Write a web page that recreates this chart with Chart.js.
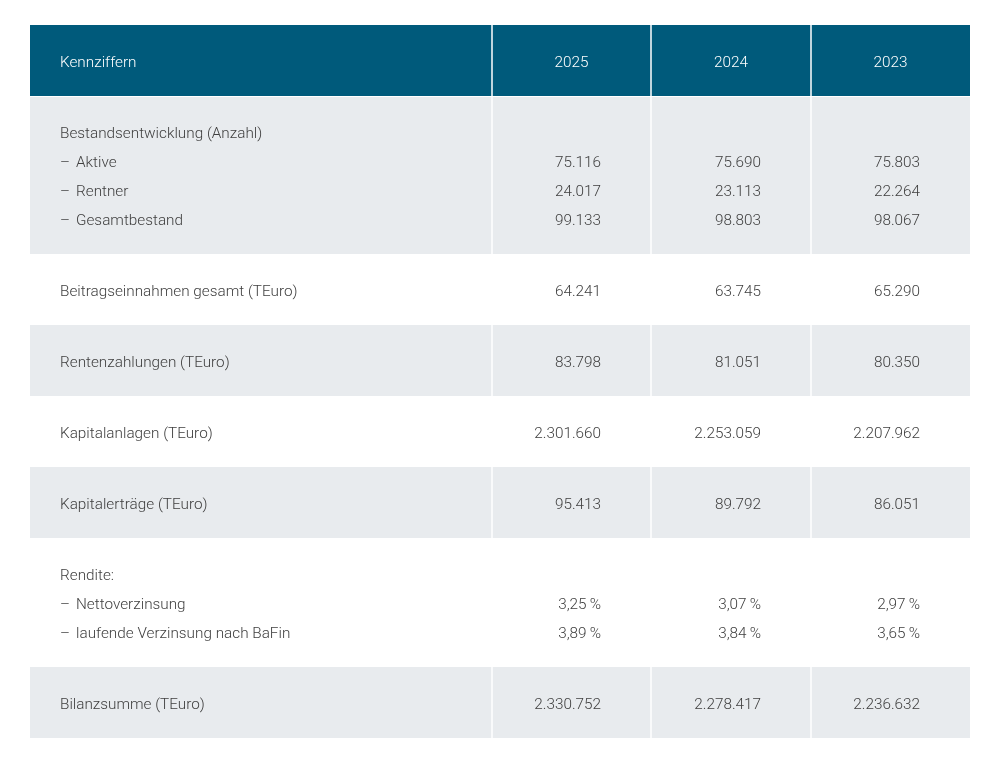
<!DOCTYPE html>
<html>
<head>
<meta charset="utf-8">
<script src="https://cdn.jsdelivr.net/npm/chart.js@4.4.1/dist/chart.umd.min.js"></script>
<style>
  html, body { margin: 0; padding: 0; background: #ffffff; }
  #wrap { width: 1000px; height: 769px; position: relative; }
</style>
</head>
<body>
<div id="wrap"><canvas id="c"></canvas></div>
<script>
// ---- data ----
const headerLabel = 'Kennziffern';
const years = ['2025', '2024', '2023'];

const rowTitles = [
  'Bestandsentwicklung (Anzahl)',
  'Beitragseinnahmen gesamt (TEuro)',
  'Rentenzahlungen (TEuro)',
  'Kapitalanlagen (TEuro)',
  'Kapitalerträge (TEuro)',
  'Rendite:',
  'Bilanzsumme (TEuro)'
];
const bestandLabels = ['Aktive', 'Rentner', 'Gesamtbestand'];
const bestand2025 = ['75.116', '24.017', '99.133'];
const bestand2024 = ['75.690', '23.113', '98.803'];
const bestand2023 = ['75.803', '22.264', '98.067'];

const beitrag = ['64.241', '63.745', '65.290'];
const rentenzahlungen = ['83.798', '81.051', '80.350'];
const kapitalanlagen = ['2.301.660', '2.253.059', '2.207.962'];
const kapitalertraege = ['95.413', '89.792', '86.051'];

const renditeLabels = ['Nettoverzinsung', 'laufende Verzinsung nach BaFin'];
const rendite2025 = ['3,25\u2009%', '3,89\u2009%'];
const rendite2024 = ['3,07\u2009%', '3,84\u2009%'];
const rendite2023 = ['2,97\u2009%', '3,65\u2009%'];

const bilanzsumme = ['2.330.752', '2.278.417', '2.236.632'];

// ---- build table model from the arrays ----
const rows = [
  { title: rowTitles[0], sub: bestandLabels,
    vals: [bestand2025, bestand2024, bestand2023], shaded: true },
  { title: rowTitles[1], vals: beitrag.map(v => [v]), shaded: false },
  { title: rowTitles[2], vals: rentenzahlungen.map(v => [v]), shaded: true },
  { title: rowTitles[3], vals: kapitalanlagen.map(v => [v]), shaded: false },
  { title: rowTitles[4], vals: kapitalertraege.map(v => [v]), shaded: true },
  { title: rowTitles[5], sub: renditeLabels,
    vals: [rendite2025, rendite2024, rendite2023], shaded: false },
  { title: rowTitles[6], vals: bilanzsumme.map(v => [v]), shaded: true }
];

// layout (in scale units; scales map 1 unit = 1 px)
const L = {
  top: 25, left: 30, right: 970,
  colEdges: [30, 492, 651, 811, 970],
  rowH: 71, lineH: 29, labelX: 60, subX: 76, numInset: 50, textDy: 2.5,
  header: '#005a7b', shade: '#e8ebee', text: '#404040',
  font: '300 15.3px Roboto'
};

const tablePlugin = {
  id: 'tablePlugin',
  beforeDatasetsDraw(chart) {
    const { ctx } = chart;
    const X = v => chart.scales.x.getPixelForValue(v);
    const Y = v => chart.scales.y.getPixelForValue(v);
    const T = v => Y(v + L.textDy);
    ctx.save();
    ctx.font = L.font;
    ctx.textBaseline = 'middle';

    // header
    let y = L.top;
    ctx.fillStyle = L.header;
    ctx.fillRect(X(L.left), Y(y), X(L.right) - X(L.left), Y(y + L.rowH) - Y(y));
    ctx.fillStyle = '#ffffff';
    ctx.textAlign = 'left';
    ctx.fillText(headerLabel, X(L.labelX), T(y + L.rowH / 2));
    ctx.textAlign = 'center';
    years.forEach((yr, i) => {
      ctx.fillText(yr, X((L.colEdges[i + 1] + L.colEdges[i + 2]) / 2), T(y + L.rowH / 2));
    });
    y += L.rowH;

    rows.forEach(r => {
      const nLines = r.sub ? r.sub.length + 1 : 1;
      const h = L.rowH + (nLines - 1) * L.lineH;
      if (r.shaded) {
        ctx.fillStyle = L.shade;
        ctx.fillRect(X(L.left), Y(y), X(L.right) - X(L.left), Y(y + h) - Y(y));
      }
      const firstY = y + L.rowH / 2;
      ctx.fillStyle = L.text;
      ctx.textAlign = 'left';
      ctx.fillText(r.title, X(L.labelX), T(firstY));
      if (r.sub) {
        r.sub.forEach((s, k) => {
          const ly = firstY + (k + 1) * L.lineH;
          ctx.fillText('\u2013', X(L.labelX), T(ly));
          ctx.fillText(s, X(L.subX), T(ly));
        });
      }
      ctx.textAlign = 'right';
      r.vals.forEach((colVals, i) => {
        const xr = L.colEdges[i + 2] - L.numInset;
        colVals.forEach((v, k) => {
          const ly = r.sub ? firstY + (k + 1) * L.lineH : firstY;
          ctx.fillText(v, X(xr), T(ly));
        });
      });
      y += h;
    });

    // vertical white dividers
    ctx.strokeStyle = '#ffffff';
    ctx.lineWidth = 1.5;
    [1, 2, 3].forEach(i => {
      ctx.beginPath();
      ctx.moveTo(X(L.colEdges[i]), Y(L.top));
      ctx.lineTo(X(L.colEdges[i]), Y(y));
      ctx.stroke();
    });
    // thin line under header
    ctx.lineWidth = 1;
    ctx.beginPath();
    ctx.moveTo(X(L.left), Y(L.top + L.rowH) + 0.5);
    ctx.lineTo(X(L.right), Y(L.top + L.rowH) + 0.5);
    ctx.stroke();
    ctx.restore();
  }
};

new Chart(document.getElementById('c'), {
  type: 'scatter',
  data: { datasets: [{ data: [], pointRadius: 0 }] },
  options: {
    responsive: true,
    maintainAspectRatio: false,
    animation: false,
    layout: { padding: 0 },
    plugins: { legend: { display: false }, tooltip: { enabled: false } },
    scales: {
      x: { type: 'linear', min: 0, max: 1000, display: false },
      y: { type: 'linear', min: 0, max: 769, reverse: true, display: false }
    }
  },
  plugins: [tablePlugin]
});
</script>
</body>
</html>
